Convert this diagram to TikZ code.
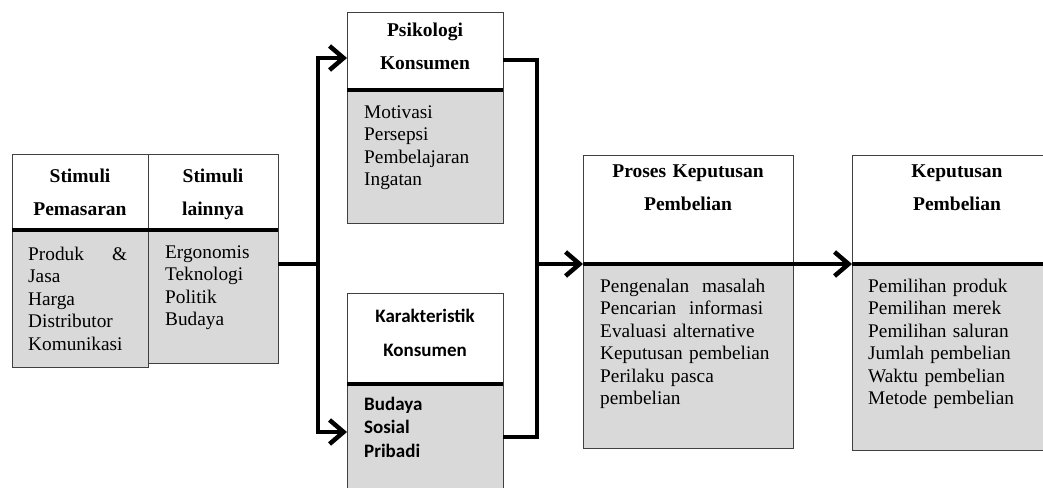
\documentclass[tikz,border=0pt]{standalone}
\usepackage{fontspec}
\setmainfont{Liberation Serif}
\newfontfamily\calibrifont{Carlito}
\usetikzlibrary{arrows.meta,positioning}
\definecolor{colorBody}{HTML}{D9D9D9}
\definecolor{colorEdge}{HTML}{404040}

\begin{document}
\begin{tikzpicture}[x=1pt,y=-1pt,>={Straight Barb[length=14pt,width=24pt]},
    head/.style={draw=colorEdge, fill=white, line width=1pt, inner sep=0pt, outer sep=0pt, anchor=north west},
    body/.style={draw=colorEdge, fill=colorBody, line width=1pt, inner sep=0pt, outer sep=0pt},
    htxt/.style={anchor=base, align=center, inner sep=0pt, text width=130pt, font=\fontsize{19.5}{33}\selectfont\bfseries},
    btxt/.style={anchor=base west, align=left, inner sep=0pt, text width=120pt, font=\fontsize{19.3}{22.5}\selectfont},
    bar/.style={line width=4pt},
    conn/.style={line width=4.5pt},]
    \clip (0,0) rectangle (1043,487);
    \fill[white] (0,0) rectangle (1043,487);
    % stimuli
    \node [head, minimum width=136pt, minimum height=76pt] (pemH) at (12,154) {};
    \node [body, below right=0pt and 0pt of pemH.south west, minimum width=136pt, minimum height=137pt] (pemB) {};
    \node [head, below right=0pt and 0pt of pemH.north east, minimum width=130pt, minimum height=76pt] (lainH) {};
    \node [body, below right=0pt and 0pt of lainH.south west, minimum width=130pt, minimum height=133pt] (lainB) {};
    \draw [bar] (pemH.south west) -- (lainH.south east);
    \node [htxt, text width=124pt] (pemT) at ([yshift=-28pt]pemH.north) {Stimuli\\Pemasaran};
    \node [htxt, text width=120pt] (lainT) at ([yshift=-28pt]lainH.north) {Stimuli\\lainnya};
    \node [btxt, text width=99pt] (pemTx) at ([xshift=16pt,yshift=-30pt]pemB.north west) {Produk\hfill\&\\Jasa\\Harga\\Distributor\\Komunikasi};
    \node [btxt, text width=108pt] (lainTx) at ([xshift=17pt,yshift=-28pt]lainB.north west) {Ergonomis\\Teknologi\\Politik\\Budaya};
    % psikologi & karakteristik
    \node [head, minimum width=156pt, minimum height=77pt] (psiH) at (347,13) {};
    \node [body, below right=0pt and 0pt of psiH.south west, minimum width=156pt, minimum height=133pt] (psiB) {};
    \draw [bar] (psiH.south west) -- (psiH.south east);
    \node [htxt, text width=146pt] (psiT) at ([yshift=-24pt]psiH.north) {Psikologi\\Konsumen};
    \node [btxt, text width=134pt] (psiTx) at ([xshift=17pt,yshift=-28pt]psiB.north west) {Motivasi\\Persepsi\\Pembelajaran\\Ingatan};
    \node [head, minimum width=156pt, minimum height=91pt] (karH) at (347,293) {};
    \node [body, below right=0pt and 0pt of karH.south west, minimum width=156pt, minimum height=120pt] (karB) {};
    \draw [bar] (karH.south west) -- (karH.south east);
    \node [htxt, text width=146pt, font=\calibrifont\fontsize{19}{34}\selectfont\bfseries] (karT) at ([yshift=-29pt]karH.north) {Karakteristik\\Konsumen};
    \node [btxt, text width=134pt, font=\calibrifont\fontsize{19}{23.5}\selectfont\bfseries] (karTx) at ([xshift=17pt,yshift=-26pt]karB.north west) {Budaya\\Sosial\\Pribadi};
    % keputusan
    \node [head, minimum width=210pt, minimum height=109pt] (proH) at (583,155) {};
    \node [body, below right=0pt and 0pt of proH.south west, minimum width=210pt, minimum height=184pt] (proB) {};
    \draw [bar] (proH.south west) -- (proH.south east);
    \node [htxt, text width=200pt] (proT) at ([yshift=-22pt]proH.north) {Proses Keputusan\\Pembelian};
    \node [btxt, text width=186pt] (proTx) at ([xshift=17pt,yshift=-28pt]proB.north west) {Pengenalan\ \ masalah\\Pencarian\ \ informasi\\Evaluasi alternative\\Keputusan pembelian\\Perilaku pasca\\pembelian};
    \node [head, minimum width=210pt, minimum height=109pt] (kepH) at (852,155) {};
    \node [body, below right=0pt and 0pt of kepH.south west, minimum width=210pt, minimum height=186pt] (kepB) {};
    \draw [bar] (kepH.south west) -- (kepH.south east);
    \node [htxt, text width=200pt] (kepT) at ([yshift=-22pt]kepH.north) {Keputusan\\Pembelian};
    \node [btxt, text width=180pt] (kepTx) at ([xshift=16pt,yshift=-28pt]kepB.north west) {Pemilihan produk\\Pemilihan merek\\Pemilihan saluran\\Jumlah pembelian\\Waktu pembelian\\Metode pembelian};
    % connectors
    \coordinate (jL) at (318,264);
    \coordinate (jTop) at (318,58);
    \coordinate (jBot) at (318,432);
    \coordinate (kTop) at (537,60);
    \coordinate (kMid) at (537,264);
    \coordinate (kBot) at (537,437);
    \draw [conn] (lainB.east |- jL) -- (jL);
    \draw [conn, <->] (psiH.west |- jTop) -- (jTop) -- (jBot) -- (karB.west |- jBot);
    \draw [conn] (psiH.east |- kTop) -- (kTop) -- (kBot) -- (karB.east |- kBot);
    \draw [conn, ->] (kMid) -- (proH.south west);
    \draw [conn, ->] (proH.south east) -- (kepH.south west);
\end{tikzpicture}
\end{document}
